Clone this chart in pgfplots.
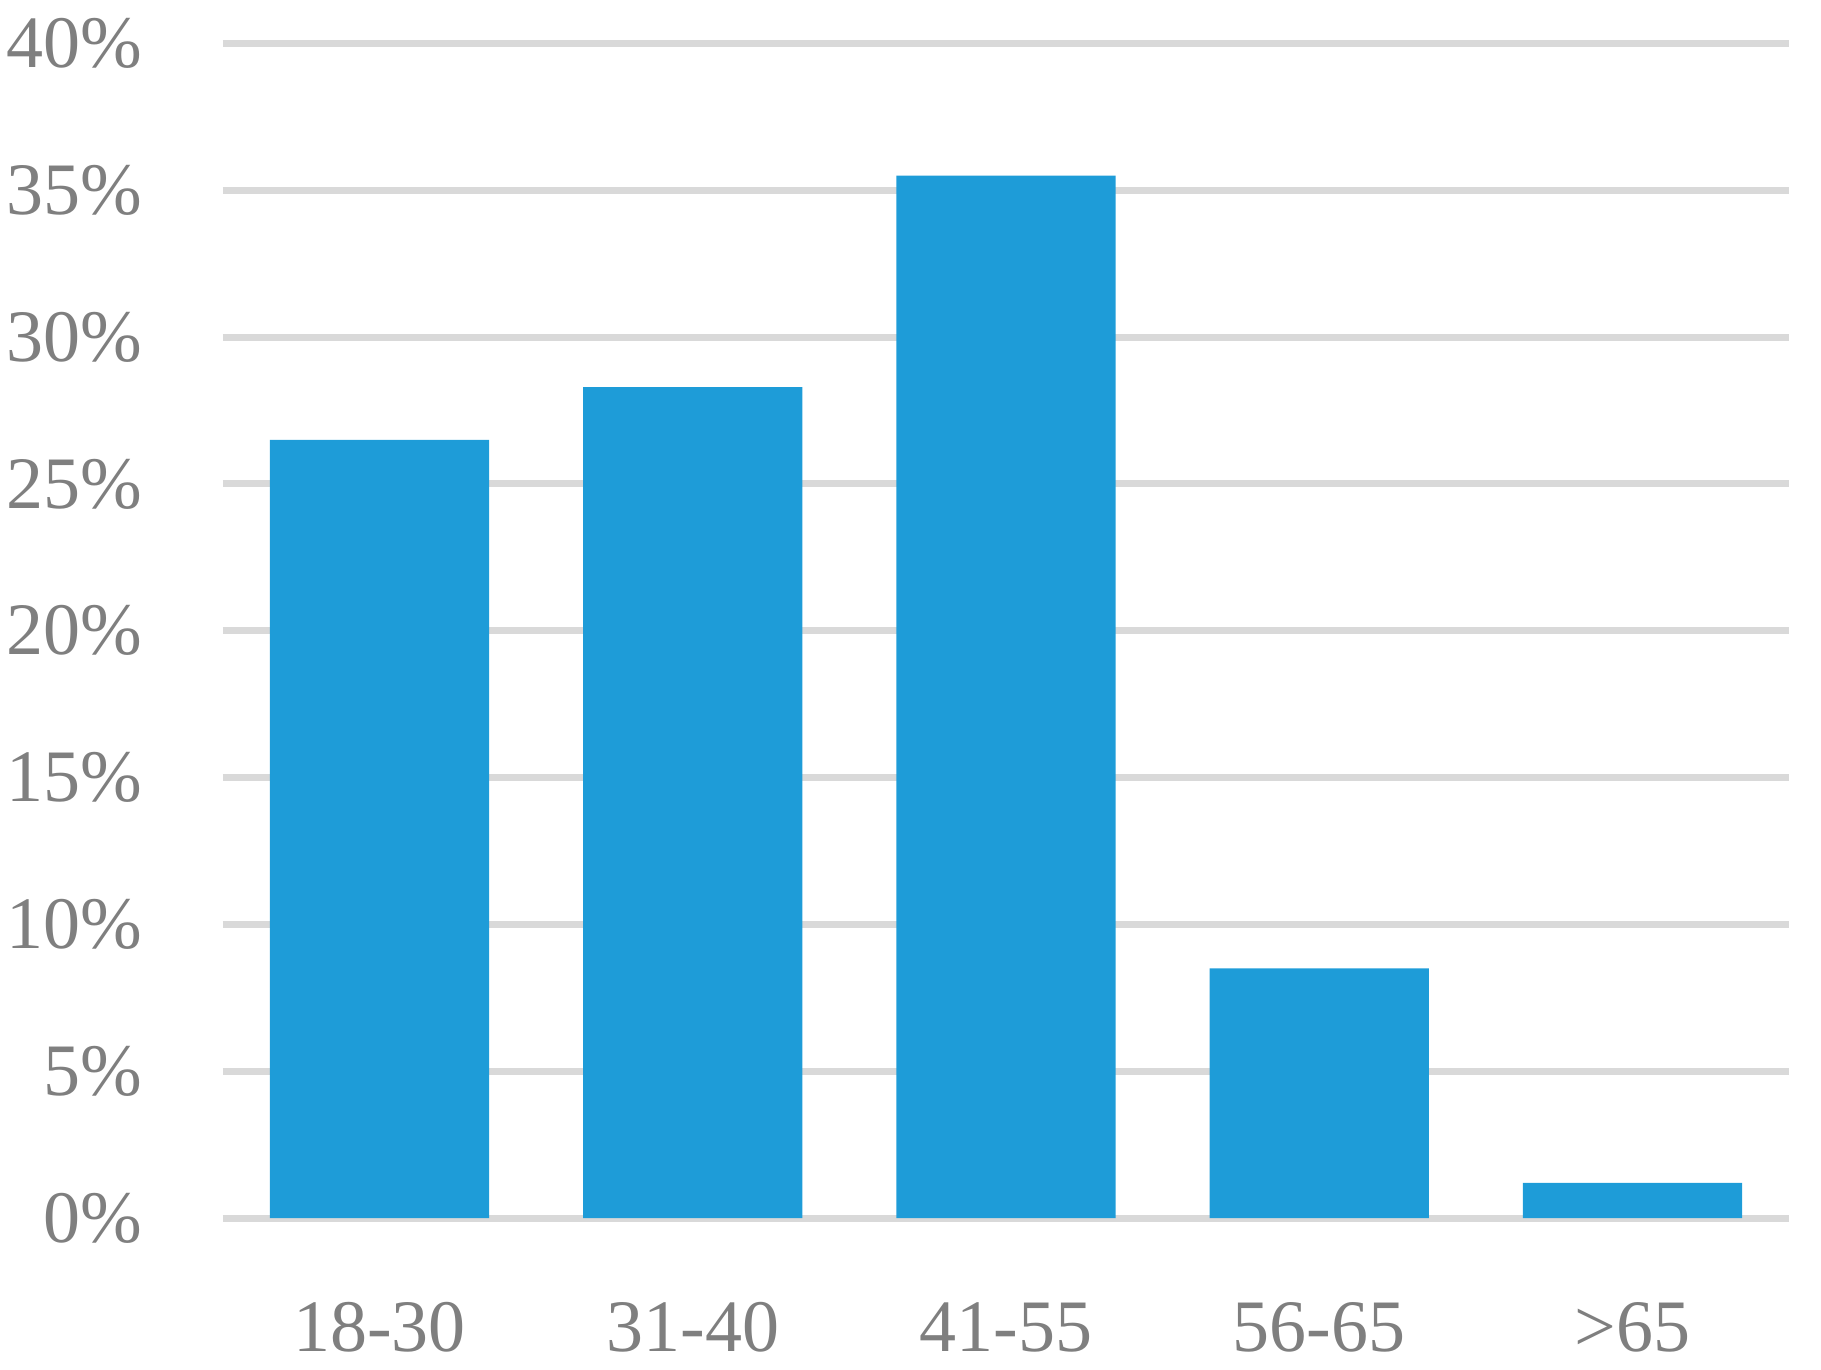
\documentclass[border=0pt]{standalone}
\usepackage{pgfplots}
\pgfplotsset{compat=1.18}
\usepackage{fontspec}
\setmainfont{Liberation Serif}
\definecolor{barblue}{HTML}{1E9CD8}
\definecolor{gridgray}{HTML}{D9D9D9}
\definecolor{labelgray}{HTML}{7F7F7F}
\begin{document}
\begin{tikzpicture}
\begin{axis}[
    scale only axis,
    width=391.5pt, height=293.6pt,
    xmin=-0.5, xmax=4.5,
    ymin=0, ymax=40,
    axis line style={draw=none},
    major tick length=0pt,
    xtick={0,1,2,3,4},
    xticklabels={18-30,31-40,41-55,56-65,>65},
    ytick={0,5,...,40},
    yticklabel={\pgfmathprintnumber{\tick}\%},
    /pgf/number format/assume math mode=true,
    ymajorgrids,
    grid style={gridgray, line width=1.75pt},
    tick label style={font=\fontsize{18.5}{22}\selectfont, text=labelgray, inner sep=0pt},
    yticklabel style={anchor=east, xshift=-20pt},
    xticklabel style={anchor=base, yshift=-33.25pt},
]
\addplot[ybar, bar width=0.7, fill=barblue, draw=none] coordinates {
    (0,26.5) (1,28.3) (2,35.5) (3,8.5) (4,1.2)
};
\end{axis}
\pgfresetboundingbox
\path (-55.75pt,-38pt) rectangle (399.5pt,304.5pt);
\end{tikzpicture}
\end{document}
